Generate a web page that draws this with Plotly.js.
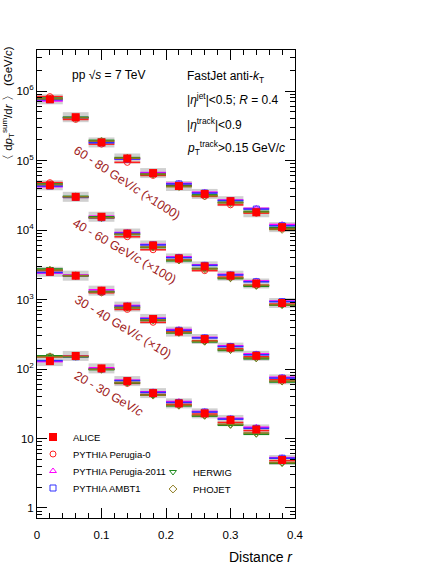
<!DOCTYPE html>
<html>
<head>
<meta charset="utf-8">
<script src="https://cdn.plot.ly/plotly-3.0.1.min.js"></script>
<style>
  body { margin: 0; background: #fff; }
  #chart { width: 442px; height: 572px; }
</style>
</head>
<body>
<div id="chart"></div>
<script>
// bin centres of distance r (bin width 0.04)
const rBins = [0.02, 0.06, 0.10, 0.14, 0.18, 0.22, 0.26, 0.30, 0.34, 0.38];

// values as plotted: 60-80 (x1000), 40-60 (x100), 30-40 (x10), 20-30 GeV/c
const alice = [
  7.6e5, 4.2e5, 1.82e5, 1.07e5, 6.6e4, 4.3e4, 3.3e4, 2.6e4, 1.8e4, 1.1e4,
  4.4e4, 3.0e4, 1.55e4, 8.9e3, 6.0e3, 3.9e3, 3.0e3, 2.2e3, 1.7e3, 890,
  2500, 2200, 1340, 790, 525, 345, 270, 203, 155, 71,
  130, 154, 102, 67, 45, 32, 23, 18.5, 13.5, 4.9
];
const perugia0 = [
  8.3e5, 3.9e5, 1.72e5, 9.4e4, 6.1e4, 4.4e4, 3.05e4, 2.3e4, 1.75e4, 1.05e4,
  4.8e4, 2.95e4, 1.5e4, 8.0e3, 5.2e3, 3.7e3, 2.6e3, 2.1e3, 1.6e3, 860,
  2600, 2200, 1250, 720, 470, 350, 255, 195, 150, 70,
  150, 155, 100, 62, 43, 31, 22.5, 17, 13, 4.8
];
const perugia2011 = [
  7.2e5, 4.1e5, 1.85e5, 1.05e5, 6.7e4, 4.7e4, 3.5e4, 2.7e4, 2.05e4, 1.2e4,
  4.2e4, 3.0e4, 1.58e4, 9.2e3, 6.2e3, 4.1e3, 3.15e3, 2.3e3, 1.85e3, 950,
  2400, 2250, 1380, 820, 540, 370, 285, 215, 165, 76,
  128, 152, 104, 69, 47, 34, 24.5, 19.5, 14.5, 5.3
];
const ambt1 = [
  7.5e5, 4.15e5, 1.8e5, 1.05e5, 6.5e4, 4.6e4, 3.4e4, 2.65e4, 2.0e4, 1.15e4,
  4.3e4, 2.95e4, 1.5e4, 9.0e3, 6.1e3, 4.0e3, 3.1e3, 2.25e3, 1.8e3, 930,
  2450, 2200, 1300, 800, 530, 360, 280, 210, 160, 74,
  132, 150, 100, 68, 46, 33, 24, 19, 14, 5.2
];
const herwig = [
  7.9e5, 4.2e5, 1.95e5, 1.1e5, 6.3e4, 4.3e4, 3.2e4, 2.5e4, 1.85e4, 1.08e4,
  4.6e4, 3.05e4, 1.55e4, 8.6e3, 5.6e3, 3.6e3, 2.8e3, 2.0e3, 1.55e3, 830,
  2750, 2200, 1300, 760, 500, 330, 245, 185, 140, 65,
  155, 150, 98, 63, 42, 29.5, 21, 15.5, 11.5, 4.4
];
const phojet = [
  7.7e5, 4.1e5, 1.9e5, 1.08e5, 6.4e4, 4.2e4, 3.1e4, 2.45e4, 1.8e4, 1.02e4,
  4.5e4, 3.0e4, 1.5e4, 8.7e3, 5.7e3, 3.7e3, 2.75e3, 2.05e3, 1.6e3, 840,
  2650, 2200, 1280, 770, 510, 335, 250, 190, 145, 67,
  150, 152, 99, 64, 42, 30, 21.5, 16, 12, 4.5
];

const groupLabels = ["60 - 80 GeV/<i>c</i> (×1000)", "40 - 60 GeV/<i>c</i> (×100)",
                     "30 - 40 GeV/<i>c</i> (×10)", "20 - 30 GeV/<i>c</i>"];
const yTickVals = [1, 10, 100, 1e3, 1e4, 1e5, 1e6];
const yTickText = ["1", "10", "10<sup>2</sup>", "10<sup>3</sup>", "10<sup>4</sup>", "10<sup>5</sup>", "10<sup>6</sup>"];

// x for all four groups
const xAll = [];
for (let g = 0; g < 4; g++) rBins.forEach(r => xAll.push(r));
const halfBin = xAll.map(() => 0.02);

// pixel -> paper helpers (plot area 37..295 x 50..518)
const L = 37, R = 295, T = 50, B = 518;
const px = v => (v - L) / (R - L);
const py = v => (B - v) / (B - T);

function model(name, y, color, symbol, legend) {
  return {
    x: xAll, y: y, name: name, type: 'scatter', mode: 'markers',
    legend: legend,
    marker: {symbol: symbol, size: 6, color: color, line: {color: color, width: 1}},
    error_x: {type: 'data', array: halfBin, width: 0, thickness: 1.6, color: color}
  };
}

const data = [
  { // systematic boxes
    x: xAll, y: alice, type: 'scatter', mode: 'markers', showlegend: false,
    marker: {size: 1, color: 'rgba(0,0,0,0)'}, hoverinfo: 'skip',
    error_x: {type: 'data', array: halfBin, width: 0, thickness: 10, color: 'rgba(170,170,170,0.55)'}
  },
  model('PYTHIA Perugia-0', perugia0, '#ff2020', 'circle-open', 'legend2'),
  model('PYTHIA Perugia-2011', perugia2011, '#ff00ff', 'triangle-up-open', 'legend3'),
  model('PYTHIA AMBT1', ambt1, '#3030ff', 'square-open', 'legend4'),
  model('HERWIG', herwig, '#1f8a1f', 'triangle-down-open', 'legend5'),
  model('PHOJET', phojet, '#8c7a1e', 'diamond-open', 'legend6'),
  {
    x: xAll, y: alice, name: 'ALICE', type: 'scatter', mode: 'markers',
    legend: 'legend',
    marker: {symbol: 'square', size: 8, color: '#ff0000'}
  }
];

const minorVals = [];
for (let e = -1; e <= 6; e++) for (let k = 2; k <= 9; k++) minorVals.push(k * Math.pow(10, e));

const txt = {family: 'Liberation Sans, Arial, sans-serif', size: 12, color: '#000'};
const labelFont = {family: 'Liberation Sans, Arial, sans-serif', size: 12.5, color: '#a01c1c'};
const labelPos = [[127, 183, 33], [124, 251, 30], [123, 327, 31], [109, 394, 30]];

const annotations = [
  {text: 'pp √<i>s</i> = 7 TeV', x: px(70), y: py(75), xanchor: 'left'},
  {text: 'FastJet anti-<i>k</i><sub>T</sub>', x: px(185), y: py(77), xanchor: 'left'},
  {text: '|<i>η</i><sup>jet</sup>|&lt;0.5; <i>R</i> = 0.4', x: px(185), y: py(99), xanchor: 'left'},
  {text: '|<i>η</i><sup>track</sup>|&lt;0.9', x: px(185), y: py(124), xanchor: 'left'},
  {text: '<i>p</i><sub>T</sub><sup>track</sup>&gt;0.15 GeV/<i>c</i>', x: px(185), y: py(148), xanchor: 'left'},
  {text: '〈 d<i>p</i><sub>T</sub><sup>sum</sup>/d<i>r</i> 〉 (GeV/<i>c</i>)', x: px(8), y: py(44),
   xanchor: 'center', yanchor: 'top', textangle: -90, font: {family: txt.family, size: 11.5, color: '#000'}},
  {text: 'Distance <i>r</i>', x: 1, y: py(557), xanchor: 'right',
   font: {family: txt.family, size: 14, color: '#000'}}
].map(a => Object.assign({xref: 'paper', yref: 'paper', showarrow: false, yanchor: 'middle', font: txt}, a));

groupLabels.forEach((t, i) => {
  annotations.push({text: t, xref: 'paper', yref: 'paper', x: px(labelPos[i][0]), y: py(labelPos[i][1]),
    xanchor: 'center', yanchor: 'middle',
    textangle: labelPos[i][2], showarrow: false, font: labelFont});
});

// one legend box per entry, so the rows sit where the reference puts them
function legendBox(xPix, yPix) {
  return {x: px(xPix), y: py(yPix), xanchor: 'left', yanchor: 'middle',
    bgcolor: 'rgba(0,0,0,0)', font: {size: 9.5}};
}

const layout = {
  width: 442, height: 572,
  margin: {l: L, r: 442 - R, t: T, b: 572 - B},
  paper_bgcolor: '#fff', plot_bgcolor: '#fff',
  font: {family: 'Liberation Sans, Arial, sans-serif', size: 11, color: '#000'},
  xaxis: {
    range: [0, 0.4], tickvals: [0, 0.1, 0.2, 0.3, 0.4], ticktext: ['0', '0.1', '0.2', '0.3', '0.4'],
    ticks: 'inside', ticklen: 10, tickwidth: 1, tickcolor: '#000',
    showline: true, linecolor: '#000', linewidth: 1, mirror: 'allticks',
    showgrid: false, zeroline: false, tickfont: {size: 11.5}, ticklabelstandoff: 6,
    minor: {dtick: 0.02, tick0: 0, ticks: 'inside', ticklen: 5, tickcolor: '#000', showgrid: false}
  },
  yaxis: {
    type: 'log', range: [-0.144, 6.59],
    tickvals: yTickVals, ticktext: yTickText,
    ticks: 'inside', ticklen: 10, tickwidth: 1, tickcolor: '#000',
    showline: true, linecolor: '#000', linewidth: 1, mirror: 'allticks',
    showgrid: false, zeroline: false, tickfont: {size: 11.5},
    minor: {tickvals: minorVals, ticks: 'inside', ticklen: 5, tickcolor: '#000', showgrid: false}
  },
  legend: legendBox(33, 437),
  legend2: legendBox(33, 454),
  legend3: legendBox(33, 471),
  legend4: legendBox(33, 488),
  legend5: legendBox(153, 472),
  legend6: legendBox(153, 489),
  annotations: annotations,
  showlegend: true
};

Plotly.newPlot('chart', data, layout, {staticPlot: true});
</script>
</body>
</html>
